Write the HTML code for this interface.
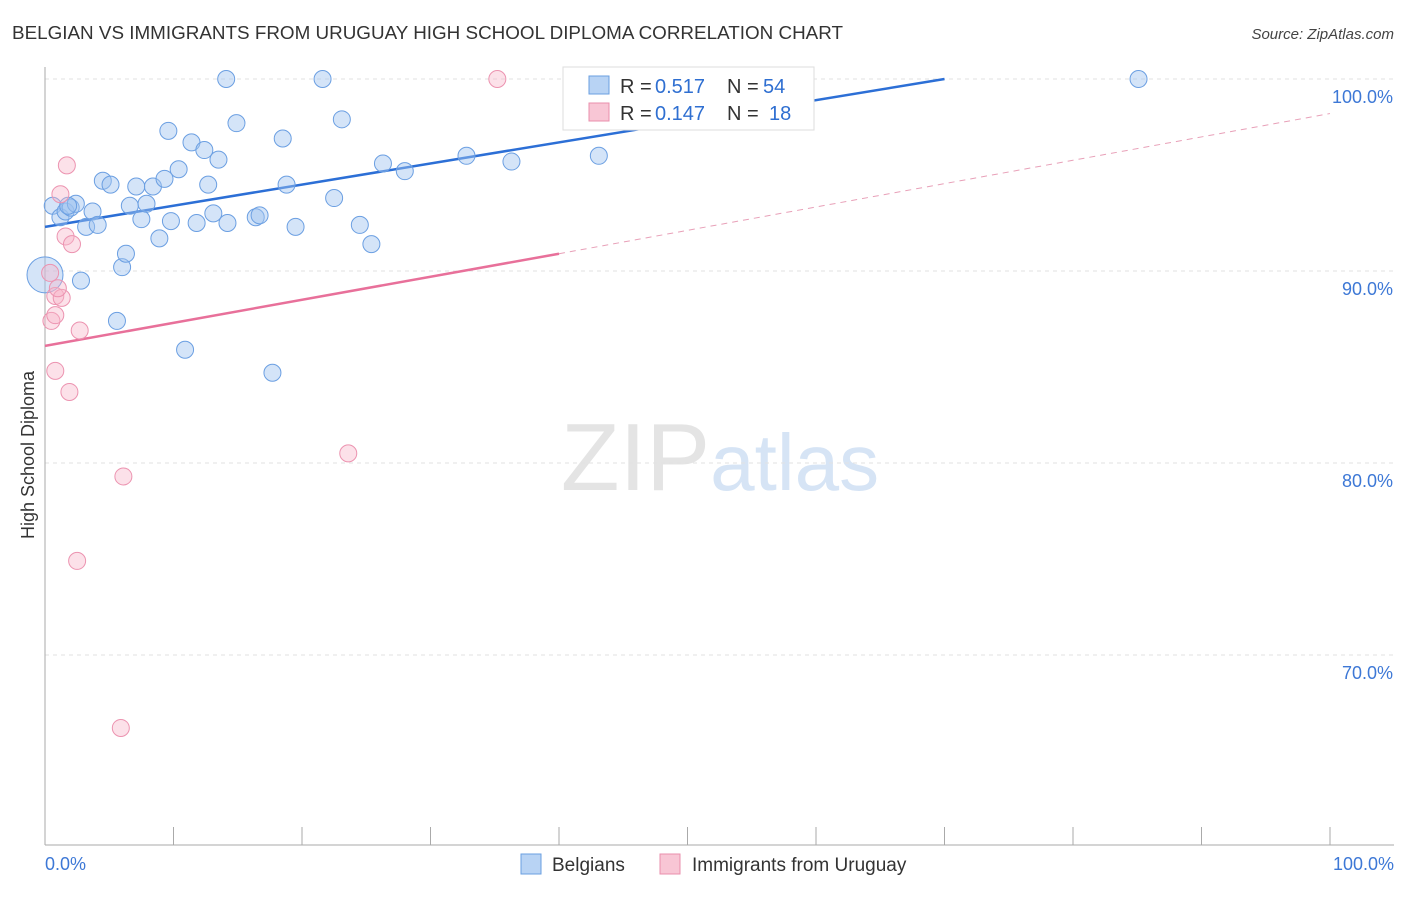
<!DOCTYPE html>
<html><head><meta charset="utf-8"><style>
body{margin:0;background:#fff;font-family:"Liberation Sans",sans-serif}
svg text{font-family:"Liberation Sans",sans-serif}
</style></head><body>
<svg id="chart" width="1406" height="892" viewBox="0 0 1406 892" xmlns="http://www.w3.org/2000/svg">
<text x="12" y="39" font-size="18" fill="#333" textLength="831" lengthAdjust="spacingAndGlyphs">BELGIAN VS IMMIGRANTS FROM URUGUAY HIGH SCHOOL DIPLOMA CORRELATION CHART</text>
<text x="1394" y="39" font-size="15" fill="#444" text-anchor="end" font-style="italic">Source: ZipAtlas.com</text>
<text x="720" y="490" font-size="96" text-anchor="middle" fill="#e4e4e4" font-family="Liberation Serif">ZIP<tspan fill="#d6e4f5" font-family="Liberation Sans" font-size="80">atlas</tspan></text>
<text transform="translate(34,455) rotate(-90)" font-size="18" fill="#333" text-anchor="middle">High School Diploma</text>
<g id="grid"></g><g id="axes"></g><g id="trend"></g><g id="pts"></g>
<g>
<rect x="563" y="67" width="251" height="63" fill="#fff" stroke="#ddd"/>
<rect x="589" y="76" width="20" height="18" fill="#b8d3f4" stroke="#6a9fe0"/>
<text x="620" y="93" font-size="20" fill="#333">R =</text>
<text x="655" y="93" font-size="20" fill="#2f6fd1">0.517</text>
<text x="727" y="93" font-size="20" fill="#333">N =</text>
<text x="763" y="93" font-size="20" fill="#2f6fd1">54</text>
<rect x="589" y="103" width="20" height="18" fill="#f8c6d5" stroke="#ea8fac"/>
<text x="620" y="120" font-size="20" fill="#333">R =</text>
<text x="655" y="120" font-size="20" fill="#2f6fd1">0.147</text>
<text x="727" y="120" font-size="20" fill="#333">N =</text>
<text x="769" y="120" font-size="20" fill="#2f6fd1">18</text>
</g>
<g>
<rect x="521" y="854" width="20" height="20" fill="#b8d3f4" stroke="#6a9fe0"/>
<text x="552" y="871" font-size="19" fill="#333">Belgians</text>
<rect x="660" y="854" width="20" height="20" fill="#f8c6d5" stroke="#ea8fac"/>
<text x="692" y="871" font-size="19" fill="#333">Immigrants from Uruguay</text>
</g>
</svg>
<script>
const blueX=[0,0.6,1.2,1.6,2,2.4,2.8,3.2,3.7,4.1,4.5,5.1,5.6,6,6.3,6.6,7.1,7.5,7.9,8.4,8.9,9.3,9.8,9.6,10.4,10.9,11.4,11.8,12.4,12.7,13.1,13.5,14.2,14.1,14.9,16.4,16.7,17.7,18.5,18.8,19.5,21.6,22.5,23.1,24.5,25.4,26.3,28,32.8,36.3,43.1,52.1,85.1,1.8];
const blueY=[89.8,93.4,92.8,93.1,93.3,93.5,89.5,92.3,93.1,92.4,94.7,94.5,87.4,90.2,90.9,93.4,94.4,92.7,93.5,94.4,91.7,94.8,92.6,97.3,95.3,85.9,96.7,92.5,96.3,94.5,93,95.8,92.5,100,97.7,92.8,92.9,84.7,96.9,94.5,92.3,100,93.8,97.9,92.4,91.4,95.6,95.2,96,95.7,96,100,100,93.4];
const pinkX=[0.4,0.5,0.8,0.8,1.2,1.3,1.0,1.7,1.6,2.1,2.7,0.8,1.9,6.1,2.5,5.9,23.6,35.2];
const pinkY=[89.9,87.4,88.7,87.7,94,88.6,89.1,95.5,91.8,91.4,86.9,84.8,83.7,79.3,74.9,66.2,80.5,100];
const yTicks=[100,90,80,70];
const X=v=>45+v*12.85, Y=v=>79+(100-v)*19.2;
const NS="http://www.w3.org/2000/svg";
function mk(p,t,a){const e=document.createElementNS(NS,t);for(const k in a)e.setAttribute(k,a[k]);document.getElementById(p).appendChild(e);return e;}
yTicks.forEach(t=>{
 const l=mk('grid','line',{x1:45,x2:1394,y1:Y(t),y2:Y(t),stroke:'#e2e2e2','stroke-dasharray':'4,4'});
 
 
 const tx=mk('grid','text',{x:1393,y:Y(t)+24,'font-size':18,fill:'#3d78d6','text-anchor':'end'});
 tx.textContent=t.toFixed(1)+'%';
 
 
});
let a=mk('axes','line',{x1:45,x2:45,y1:67,y2:845,stroke:'#aaa'});


a=mk('axes','line',{x1:45,x2:1394,y1:845,y2:845,stroke:'#aaa'});


for(let i=1;i<=10;i++){const t=mk('axes','line',{x1:X(i*10),x2:X(i*10),y1:827,y2:845,stroke:'#aaa'});
 
 }
let t0=mk('axes','text',{x:45,y:870,'font-size':18,fill:'#3d78d6'});t0.textContent='0.0%';


t0=mk('axes','text',{x:1394,y:870,'font-size':18,fill:'#3d78d6','text-anchor':'end'});t0.textContent='100.0%';


let tl=mk('trend','line',{x1:X(0),y1:Y(92.3),x2:X(70),y2:Y(100),stroke:'#2c6fd6','stroke-width':2.5});


tl=mk('trend','line',{x1:X(0),y1:Y(86.1),x2:X(40),y2:Y(90.9),stroke:'#e8709a','stroke-width':2.5});


tl=mk('trend','line',{x1:X(40),y1:Y(90.9),x2:X(100),y2:Y(98.2),stroke:'#e8a0b8','stroke-width':1,'stroke-dasharray':'6,5'});


blueX.forEach((x,i)=>{const c=mk('pts','circle',{cx:X(x),cy:Y(blueY[i]),r:i==0?18:8.5,fill:'rgba(160,195,240,0.45)',stroke:'#6b9fe2','stroke-width':1});
 
 });
pinkX.forEach((x,i)=>{const c=mk('pts','circle',{cx:X(x),cy:Y(pinkY[i]),r:8.5,fill:'rgba(248,180,200,0.4)',stroke:'#ec93b0','stroke-width':1});
 
 });
</script>
</body></html>
